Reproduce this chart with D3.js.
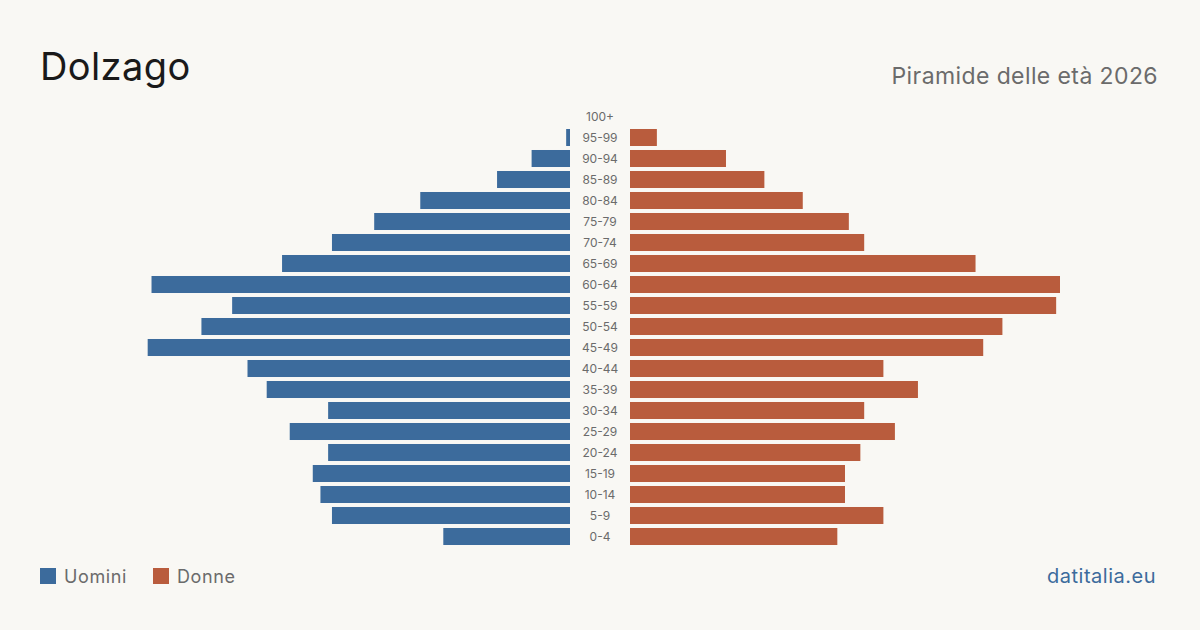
<!DOCTYPE html>
<html>
<head>
<meta charset="utf-8">
<script src="https://cdn.jsdelivr.net/npm/d3@7"></script>
<style>
    body { margin: 0; background: #f9f8f4; }
    svg { display: block; font-family: Inter, "Noto Sans", sans-serif; }
</style>
</head>
<body>
<svg id="chart" width="1200" height="630"></svg>
<script>
// age groups, top to bottom
let ageGroups = ["100+", "95-99", "90-94", "85-89", "80-84", "75-79", "70-74", "65-69", "60-64", "55-59",
    "50-54", "45-49", "40-44", "35-39", "30-34", "25-29", "20-24", "15-19", "10-14", "5-9", "0-4"];
let men = [0, 1, 10, 19, 39, 51, 62, 75, 109, 88, 96, 110, 84, 79, 63, 73, 63, 67, 65, 62, 33];
let women = [0, 7, 25, 35, 45, 57, 61, 90, 112, 111, 97, 92, 66, 75, 61, 69, 60, 56, 56, 66, 54];
let legendLabels = ["Uomini", "Donne"];

let svg = d3.select("#chart");
let width = 1200;
let blue = "#3c6b9c";
let orange = "#b95c3d";

svg.append("rect").attr("width", width).attr("height", 630).attr("fill", "#f9f8f4");

// title + subtitle
svg.append("text")
    .attr("x", 40).attr("y", 80)
    .attr("font-size", 38).attr("fill", "#1a1a1a")
    .attr("letter-spacing", 0.4)
    .text("Dolzago");
svg.append("text")
    .attr("x", 1158).attr("y", 84)
    .attr("text-anchor", "end")
    .attr("font-size", 23).attr("fill", "#6b6b6b")
    .attr("letter-spacing", 0.4)
    .text("Piramide delle età 2026");

// scales
let maxValue = d3.max(men.concat(women));
let yScale = d3.scaleBand()
    .domain(ageGroups)
    .range([106, 547])
    .paddingInner(0.19)
    .paddingOuter(0.095);
let xLeft = d3.scaleLinear().domain([0, maxValue]).range([570, 140]);
let xRight = d3.scaleLinear().domain([0, maxValue]).range([630, 1060]);

let rows = ageGroups.map(function (a, i) {
    return {age: a, m: men[i], f: women[i]};
});

svg.append("g").selectAll("rect")
    .data(rows)
    .enter().append("rect")
    .attr("x", d => xLeft(d.m))
    .attr("y", d => yScale(d.age))
    .attr("width", d => xLeft(0) - xLeft(d.m))
    .attr("height", yScale.bandwidth())
    .attr("fill", blue);

svg.append("g").selectAll("rect")
    .data(rows)
    .enter().append("rect")
    .attr("x", xRight(0))
    .attr("y", d => yScale(d.age))
    .attr("width", d => xRight(d.f) - xRight(0))
    .attr("height", yScale.bandwidth())
    .attr("fill", orange);

// age labels in the middle
svg.append("g").selectAll("text")
    .data(rows)
    .enter().append("text")
    .attr("x", 600)
    .attr("y", d => yScale(d.age) + yScale.bandwidth() / 2)
    .attr("dy", "0.35em")
    .attr("text-anchor", "middle")
    .attr("font-size", 12)
    .attr("fill", "#6b6b6b")
    .text(d => d.age);

// legend
let legend = svg.append("g").selectAll("g")
    .data(legendLabels)
    .enter().append("g")
    .attr("transform", (d, i) => "translate(" + (40 + i * 113) + ",568)");
legend.append("rect")
    .attr("width", 16).attr("height", 16)
    .attr("fill", (d, i) => i === 0 ? blue : orange);
legend.append("text")
    .attr("x", 24).attr("y", 15)
    .attr("font-size", 18).attr("fill", "#6b6b6b")
    .attr("letter-spacing", 0.6)
    .text(d => d);

svg.append("text")
    .attr("x", 1156).attr("y", 583)
    .attr("text-anchor", "end")
    .attr("font-size", 20).attr("fill", blue)
    .attr("letter-spacing", 0.5)
    .text("datitalia.eu");
</script>
</body>
</html>
